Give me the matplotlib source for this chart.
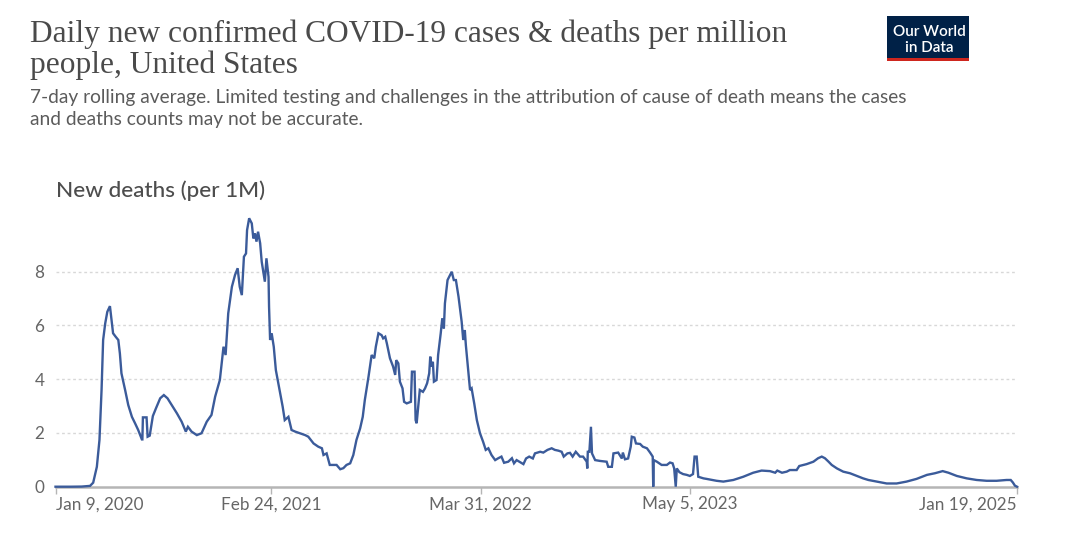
import matplotlib
matplotlib.use("Agg")
import matplotlib.pyplot as plt
import matplotlib.patches as mpatches
import pandas as pd
import numpy as np

# ---------------- data ----------------
start_date = "2020-01-09"
day_offset = [
    0, 30, 50, 60, 66, 72, 79, 84, 88, 91, 95, 99, 104, 106, 110, 115, 120, 123, 126,
    133, 139, 146, 152, 158, 165, 166, 167, 174, 176, 180, 186, 192, 200, 207, 214,
    222, 232, 241, 249, 253, 260, 270, 279, 289, 298, 305, 314, 321, 325, 330, 337,
    343, 348, 352, 356, 360, 364, 366, 370, 375, 378, 381, 384, 387, 391, 394, 397,
    400, 403, 407, 408, 410, 413, 417, 421, 428, 434, 438, 445, 451, 458, 467, 477,
    483, 493, 502, 509, 512, 518, 524, 531, 537, 544, 550, 556, 563, 569, 575, 582,
    587, 591, 598, 604, 609, 612, 617, 623, 626, 630, 633, 639, 645, 649, 651, 655,
    658, 663, 666, 671, 679, 681, 686, 688, 690, 693, 696, 702, 706, 710, 714, 716,
    718, 721, 723, 728, 731, 736, 739, 742, 744, 749, 754, 757, 761, 765, 770, 776,
    779, 782, 784, 789, 792, 795, 800, 805, 811, 817, 822, 827, 833, 840, 846, 852,
    857, 865, 872, 876, 881, 889, 894, 899, 905, 912, 916, 926, 932, 940, 948, 954,
    961, 967, 971, 978, 983, 988, 994, 1002, 1008, 1015, 1016, 1017, 1020, 1023,
    1025, 1031, 1040, 1053, 1056, 1063, 1066, 1075, 1082, 1084, 1088, 1094, 1099,
    1101, 1106, 1109, 1117, 1122, 1130, 1136, 1141, 1142, 1143, 1149, 1158, 1168,
    1174, 1179, 1182, 1185, 1187, 1192, 1199, 1206, 1212, 1218, 1221, 1225, 1228,
    1238, 1244, 1263, 1276, 1295, 1314, 1333, 1349, 1365, 1375, 1379, 1388, 1397,
    1403, 1416, 1421, 1435, 1448, 1457, 1464, 1470, 1477, 1483, 1493, 1505, 1518,
    1531, 1543, 1553, 1569, 1588, 1607, 1626, 1645, 1665, 1680, 1695, 1706, 1722,
    1741, 1760, 1779, 1798, 1817, 1825, 1829, 1833, 1837,
]
new_deaths_per_million = [
    0.0, 0.0, 0.005, 0.02, 0.03, 0.15, 0.74, 1.74, 3.6, 5.46, 6.08, 6.51, 6.72, 6.39,
    5.71, 5.58, 5.46, 4.96, 4.22, 3.6, 3.04, 2.6, 2.36, 2.11, 1.76, 1.76, 2.58, 2.58,
    1.86, 1.9, 2.63, 2.92, 3.29, 3.41, 3.29, 3.04, 2.73, 2.42, 2.05, 2.23, 2.05, 1.92,
    1.99, 2.42, 2.67, 3.35, 3.97, 5.21, 4.9, 6.45, 7.44, 7.88, 8.13, 7.44, 7.13, 8.56,
    8.68, 9.55, 9.99, 9.8, 9.24, 9.43, 9.12, 9.49, 9.06, 8.37, 8.0, 7.63, 8.5, 7.81,
    6.7, 5.46, 5.71, 5.21, 4.34, 3.6, 2.98, 2.48, 2.6, 2.11, 2.05, 1.99, 1.92, 1.86,
    1.61, 1.49, 1.43, 1.18, 1.24, 0.81, 0.81, 0.81, 0.65, 0.69, 0.81, 0.87, 1.18,
    1.74, 2.17, 2.6, 3.23, 4.09, 4.9, 4.78, 5.21, 5.71, 5.64, 5.52, 5.58, 5.34, 4.78,
    4.47, 4.16, 4.71, 4.59, 3.91, 3.66, 3.16, 3.1, 3.16, 4.28, 4.28, 2.48, 2.36, 2.98,
    3.6, 3.53, 3.66, 3.85, 4.22, 4.84, 4.47, 4.65, 3.91, 3.97, 4.9, 5.71, 6.27, 5.89,
    6.82, 7.69, 7.88, 8.0, 7.69, 7.69, 7.07, 6.14, 5.46, 5.83, 5.27, 4.22, 3.6, 3.66,
    3.1, 2.48, 1.99, 1.67, 1.37, 1.43, 1.18, 0.99, 1.06, 1.12, 0.89, 0.93, 1.06, 0.87,
    0.99, 0.9, 0.84, 1.05, 1.12, 1.05, 1.24, 1.3, 1.27, 1.37, 1.43, 1.37, 1.34, 1.3,
    1.12, 1.24, 1.26, 1.12, 1.3, 1.12, 1.12, 0.93, 0.68, 1.3, 1.3, 2.23, 1.24, 0.99,
    0.96, 0.93, 0.74, 0.74, 1.24, 1.27, 1.05, 1.27, 1.02, 1.05, 1.49, 1.86, 1.83,
    1.61, 1.59, 1.49, 1.43, 1.27, 1.12, 0.0, 0.99, 0.93, 0.81, 0.81, 0.9, 0.87, 0.68,
    0.0, 0.68, 0.54, 0.47, 0.44, 0.4, 0.47, 1.12, 1.12, 0.37, 0.31, 0.29, 0.22, 0.19,
    0.25, 0.37, 0.52, 0.6, 0.58, 0.52, 0.6, 0.52, 0.56, 0.62, 0.62, 0.77, 0.84, 0.93,
    1.06, 1.12, 1.06, 0.93, 0.81, 0.68, 0.56, 0.5, 0.4, 0.31, 0.25, 0.19, 0.12, 0.12,
    0.19, 0.29, 0.44, 0.5, 0.58, 0.52, 0.4, 0.31, 0.25, 0.22, 0.22, 0.25, 0.25, 0.16,
    0.04, 0.0,
]
x_tick_labels = ["Jan 9, 2020", "Feb 24, 2021", "Mar 31, 2022", "May 5, 2023", "Jan 19, 2025"]
x_tick_dates = ["2020-01-09", "2021-02-24", "2022-03-31", "2023-05-05", "2025-01-19"]
y_ticks = [0, 2, 4, 6, 8]

title_lines = ["Daily new confirmed COVID-19 cases & deaths per million",
               "people, United States"]
subtitle_lines = ["7-day rolling average. Limited testing and challenges in the attribution of cause of death means the cases",
                  "and deaths counts may not be accurate."]
axis_title = "New deaths (per 1M)"

# ---------------- figure ----------------
W, H = 1079, 536
fig = plt.figure(figsize=(W / 100, H / 100), dpi=100)
fig.patch.set_facecolor("white")

def fx(px):
    return px / W

def fy(py):
    return 1 - py / H

dates = pd.to_datetime(start_date) + pd.to_timedelta(day_offset, unit="D")
xt = pd.to_datetime(x_tick_dates)

ax = fig.add_axes([fx(55.5), fy(486.7), fx(1017) - fx(55.5), fy(218) - fy(486.7)])
ax.set_xlim(xt[0], xt[-1])
ax.set_ylim(0, 10)

for yv in y_ticks[1:]:
    ax.axhline(yv, color="#d8d8d8", lw=1.0, ls=(0, (2, 2)), zorder=1)
ax.axhline(0, color="#b5b5b5", lw=1.8, zorder=2, clip_on=False)

ax.plot(dates, new_deaths_per_million, color="#3b5b9a", lw=1.7, zorder=3,
        clip_on=False, solid_joinstyle="miter")

for s in ax.spines.values():
    s.set_visible(False)

ax.set_yticks(y_ticks)
ax.set_yticklabels([str(v) for v in y_ticks])
ax.tick_params(axis="y", length=0, pad=8, labelsize=12.3, labelcolor="#666666")
for lab in ax.get_yticklabels():
    lab.set_fontfamily("Lato")

ax.set_xticks(xt)
ax.set_xticklabels(x_tick_labels)
ax.tick_params(axis="x", length=5, width=1, color="#b5b5b5", pad=2,
               labelsize=12.3, labelcolor="#666666")
xl = ax.get_xticklabels()
for i, lab in enumerate(xl):
    lab.set_fontfamily("Lato")
    if i == 0:
        lab.set_ha("left")
    elif i == len(xl) - 1:
        lab.set_ha("right")

# ---------------- texts ----------------
fig.text(fx(30), fy(42), title_lines[0], family="Liberation Serif", fontsize=22.6,
         color="#4a4a4a", va="baseline", ha="left")
fig.text(fx(30), fy(73), title_lines[1], family="Liberation Serif", fontsize=22.6,
         color="#4a4a4a", va="baseline", ha="left")
fig.text(fx(30), fy(103), subtitle_lines[0], family="Lato", fontsize=13.8,
         color="#5b5b5b", va="baseline", ha="left")
fig.text(fx(30), fy(125), subtitle_lines[1], family="Lato", fontsize=13.8,
         color="#5b5b5b", va="baseline", ha="left")
fig.text(fx(56), fy(197), axis_title, family="Lato", fontsize=16.2,
         color="#4d4d4d", va="baseline", ha="left", weight="medium")

# logo
logo = mpatches.Rectangle((fx(887), fy(61)), fx(969) - fx(887), fy(16.5) - fy(61),
                          transform=fig.transFigure, facecolor="#002147", edgecolor="none")
fig.patches.append(logo)
bar = mpatches.Rectangle((fx(887), fy(61)), fx(969) - fx(887), fy(58) - fy(61),
                         transform=fig.transFigure, facecolor="#ce261e", edgecolor="none")
fig.patches.append(bar)
fig.text(fx(929), fy(36), "Our World", family="Lato", fontsize=11, color="white",
         ha="center", va="baseline", weight="semibold")
fig.text(fx(929), fy(52), "in Data", family="Lato", fontsize=11, color="white",
         ha="center", va="baseline", weight="semibold")

fig.savefig("out.png", dpi=100, facecolor="white")
